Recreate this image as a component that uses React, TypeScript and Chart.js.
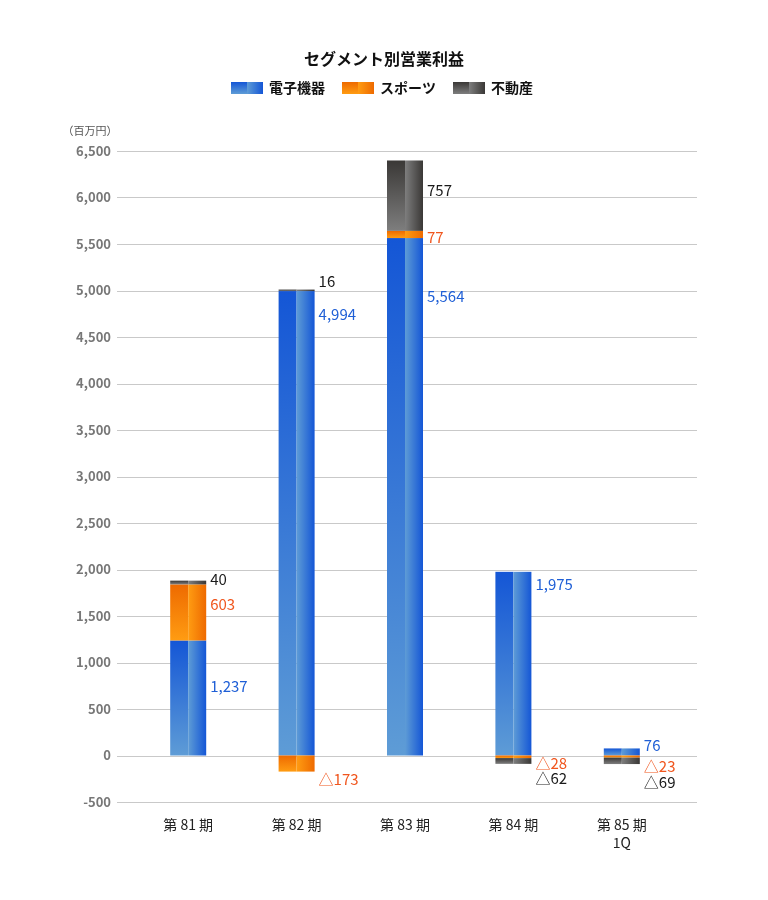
import React, { useEffect, useRef } from "react";
import { Chart, registerables } from "chart.js";

Chart.register(...registerables);

// ---- data ----
const categories: (string | string[])[] = ["第 81 期", "第 82 期", "第 83 期", "第 84 期", ["第 85 期", "1Q"]];
const seriesNames = ["電子機器", "スポーツ", "不動産"];
const electronics = [1237, 4994, 5564, 1975, 76];
const sports = [603, -173, 77, -28, -23];
const realEstate = [40, 16, 757, -62, -69];
// where each value label sits, in value-axis units
const electronicsLabelAt = [742, 4740, 4933, 1845, 115];
const sportsLabelAt = [1623, -258, 5567, -89, -115];
const realEstateLabelAt = [1892, 5095, 6073, -244, -287];
const yMin = -500;
const yMax = 6500;
const yStep = 500;
const chartTitle = "セグメント別営業利益";
const unitLabel = "（百万円）";

// ---- styles ----
const FONT = "'Noto Sans CJK JP', 'Noto Sans', sans-serif";
const palette = [
  { dark: "#1456d6", light: "#5e9cd6", text: "#1f5fd6" },
  { dark: "#ee6a00", light: "#ff9c12", text: "#f0561e" },
  { dark: "#3a3836", light: "#7e7e7e", text: "#1a1a1a" },
];

const fmt = (v: number) => (v < 0 ? "△" + Math.abs(v).toLocaleString("en-US") : v.toLocaleString("en-US"));

function paintBlock(ctx: CanvasRenderingContext2D, left: number, top: number, w: number, h: number, pal: { dark: string; light: string }) {
  if (h <= 0 || w <= 0) return;
  const half = w / 2;
  const g1 = ctx.createLinearGradient(0, top, 0, top + h);
  g1.addColorStop(0, pal.dark);
  g1.addColorStop(1, pal.light);
  ctx.fillStyle = g1;
  ctx.fillRect(left, top, half, h);
  const g2 = ctx.createLinearGradient(left + half, 0, left + w, 0);
  g2.addColorStop(0, pal.light);
  g2.addColorStop(1, pal.dark);
  ctx.fillStyle = g2;
  ctx.fillRect(left + half, top, w - half, h);
}

const labelAnchors = [electronicsLabelAt, sportsLabelAt, realEstateLabelAt];

const decorPlugin = {
  id: "decor",
  beforeDatasetsDraw(chart: any) {
    const { ctx, chartArea, scales } = chart;
    const ys = scales.y;
    ctx.save();
    ctx.strokeStyle = "#c9c9c9";
    ctx.lineWidth = 1;
    ys.ticks.forEach((t: any) => {
      const py = Math.round(ys.getPixelForValue(t.value)) + 0.5;
      ctx.beginPath();
      ctx.moveTo(chartArea.left - 17, py);
      ctx.lineTo(chartArea.right + 21, py);
      ctx.stroke();
    });
    ctx.restore();
  },
  afterDatasetsDraw(chart: any) {
    const { ctx, scales } = chart;
    const ys = scales.y;
    ctx.save();
    chart.data.datasets.forEach((ds: any, di: number) => {
      const meta = chart.getDatasetMeta(di);
      meta.data.forEach((el: any) => {
        const { x, y, base, width } = el.getProps(["x", "y", "base", "width"], true);
        const top = Math.min(y, base);
        const h = Math.abs(base - y);
        paintBlock(ctx, x - width / 2, top, width, h, palette[di]);
      });
    });
    ctx.font = `15px ${FONT}`;
    ctx.textAlign = "left";
    ctx.textBaseline = "middle";
    chart.data.datasets.forEach((ds: any, di: number) => {
      const meta = chart.getDatasetMeta(di);
      meta.data.forEach((el: any, i: number) => {
        const { x, width } = el.getProps(["x", "width"], true);
        const v = ds.data[i];
        ctx.fillStyle = palette[di].text;
        ctx.fillText(fmt(v), x + width / 2 + 4, ys.getPixelForValue(labelAnchors[di][i]));
      });
    });
    ctx.restore();
  },
  afterDraw(chart: any) {
    const { ctx, width, scales } = chart;
    const ys = scales.y;
    ctx.save();
    // title
    ctx.fillStyle = "#111";
    ctx.font = `bold 16px ${FONT}`;
    ctx.textAlign = "center";
    ctx.textBaseline = "middle";
    ctx.fillText(chartTitle, width / 2, 59);
    // legend
    ctx.font = `bold 14px ${FONT}`;
    const boxW = 32, boxH = 12, gap = 6, spacing = 17;
    const widths = seriesNames.map((n) => boxW + gap + ctx.measureText(n).width);
    const total = widths.reduce((a, b) => a + b, 0) + spacing * (seriesNames.length - 1);
    let lx = width / 2 - 2 - total / 2;
    const ly = 88;
    seriesNames.forEach((n, i) => {
      paintBlock(ctx, lx, ly - boxH / 2, boxW, boxH, palette[i]);
      ctx.fillStyle = "#111";
      ctx.textAlign = "left";
      ctx.fillText(n, lx + boxW + gap, ly);
      lx += widths[i] + spacing;
    });
    // unit
    ctx.font = `11px ${FONT}`;
    ctx.fillStyle = "#555";
    ctx.textAlign = "center";
    ctx.fillText(unitLabel, ys.right - 44, 131);
    ctx.restore();
  },
};

export default function App() {
  const ref = useRef<HTMLCanvasElement | null>(null);
  useEffect(() => {
    if (!ref.current) return;
    Chart.defaults.font.family = FONT;
    const chart = new Chart(ref.current, {
      type: "bar",
      data: {
        labels: categories as any,
        datasets: [
          { label: seriesNames[0], data: electronics },
          { label: seriesNames[1], data: sports },
          { label: seriesNames[2], data: realEstate },
        ].map((d) => ({ ...d, backgroundColor: "rgba(0,0,0,0)", borderWidth: 0, barThickness: 36 })),
      },
      options: {
        animation: false,
        responsive: false,
        layout: { padding: { top: 151, right: 92, bottom: 0, left: 0 } },
        plugins: { legend: { display: false }, tooltip: { enabled: false }, title: { display: false } },
        scales: {
          x: {
            stacked: true,
            grid: { display: false, drawTicks: false },
            border: { display: false },
            ticks: { color: "#222", font: { size: 14, lineHeight: 1.25 }, padding: 14, maxRotation: 0 },
            afterFit: (s: any) => { s.height = 98; },
          },
          y: {
            stacked: true,
            min: yMin,
            max: yMax,
            grid: { display: false, drawTicks: false },
            border: { display: false },
            ticks: {
              stepSize: yStep,
              color: "#777",
              padding: 23,
              font: { size: 13, weight: "bold" },
              callback: (v: any) => Number(v).toLocaleString("en-US"),
            },
            afterFit: (s: any) => { s.width = 134; },
          },
        },
      },
      plugins: [decorPlugin],
    });
    return () => chart.destroy();
  }, []);
  return (
    <div style={{ position: "absolute", left: 0, top: 0, width: 768, height: 900, background: "#fff" }}>
      <canvas ref={ref} width={768} height={900} style={{ display: "block" }} />
    </div>
  );
}
